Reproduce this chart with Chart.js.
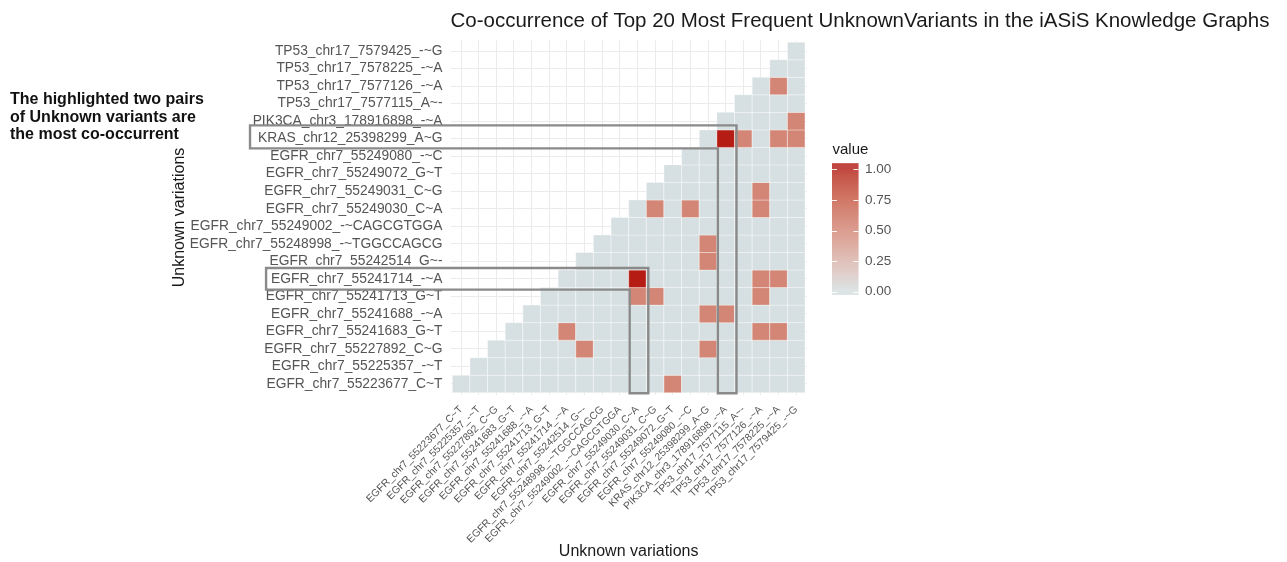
<!DOCTYPE html>
<html>
<head>
<meta charset="utf-8">
<script src="https://cdn.jsdelivr.net/npm/chart.js@4.4.1/dist/chart.umd.min.js"></script>
<style>
  html, body { margin: 0; padding: 0; background: #ffffff; }
  #wrap { position: relative; width: 1287px; height: 562px; }
</style>
</head>
<body>
<div id="wrap"><canvas id="c" width="1287" height="562"></canvas></div>
<script>
// Variants, bottom-to-top on the y axis and left-to-right on the x axis
const variants = [
  'EGFR_chr7_55223677_C~T',
  'EGFR_chr7_55225357_-~T',
  'EGFR_chr7_55227892_C~G',
  'EGFR_chr7_55241683_G~T',
  'EGFR_chr7_55241688_-~A',
  'EGFR_chr7_55241713_G~T',
  'EGFR_chr7_55241714_-~A',
  'EGFR_chr7_55242514_G~-',
  'EGFR_chr7_55248998_-~TGGCCAGCG',
  'EGFR_chr7_55249002_-~CAGCGTGGA',
  'EGFR_chr7_55249030_C~A',
  'EGFR_chr7_55249031_C~G',
  'EGFR_chr7_55249072_G~T',
  'EGFR_chr7_55249080_-~C',
  'KRAS_chr12_25398299_A~G',
  'PIK3CA_chr3_178916898_-~A',
  'TP53_chr17_7577115_A~-',
  'TP53_chr17_7577126_-~A',
  'TP53_chr17_7578225_-~A',
  'TP53_chr17_7579425_-~G'
];

// Normalised co-occurrence; row r = y variant, column c = x variant (null = not shown)
const _ = null;
const coOccurrence = [
  [0,0,0,0,0,0,0,0,0,0,0,0,0.5,0,0,0,0,0,0,0],
  [_,0,0,0,0,0,0,0,0,0,0,0,0,0,0,0,0,0,0,0],
  [_,_,0,0,0,0,0,0.5,0,0,0,0,0,0,0.5,0,0,0,0,0],
  [_,_,_,0,0,0,0.5,0,0,0,0,0,0,0,0,0,0,0.5,0.5,0],
  [_,_,_,_,0,0,0,0,0,0,0,0,0,0,0.5,0.5,0,0,0,0],
  [_,_,_,_,_,0,0,0,0,0,0.5,0.5,0,0,0,0,0,0.5,0,0],
  [_,_,_,_,_,_,0,0,0,0,1,0,0,0,0,0,0,0.5,0.5,0],
  [_,_,_,_,_,_,_,0,0,0,0,0,0,0,0.5,0,0,0,0,0],
  [_,_,_,_,_,_,_,_,0,0,0,0,0,0,0.5,0,0,0,0,0],
  [_,_,_,_,_,_,_,_,_,0,0,0,0,0,0,0,0,0,0,0],
  [_,_,_,_,_,_,_,_,_,_,0,0.5,0,0.5,0,0,0,0.5,0,0],
  [_,_,_,_,_,_,_,_,_,_,_,0,0,0,0,0,0,0.5,0,0],
  [_,_,_,_,_,_,_,_,_,_,_,_,0,0,0,0,0,0,0,0],
  [_,_,_,_,_,_,_,_,_,_,_,_,_,0,0,0,0,0,0,0],
  [_,_,_,_,_,_,_,_,_,_,_,_,_,_,0,1,0.5,0,0.5,0.5],
  [_,_,_,_,_,_,_,_,_,_,_,_,_,_,_,0,0,0,0,0.5],
  [_,_,_,_,_,_,_,_,_,_,_,_,_,_,_,_,0,0,0,0],
  [_,_,_,_,_,_,_,_,_,_,_,_,_,_,_,_,_,0,0.5,0],
  [_,_,_,_,_,_,_,_,_,_,_,_,_,_,_,_,_,_,0,0],
  [_,_,_,_,_,_,_,_,_,_,_,_,_,_,_,_,_,_,_,0]
];

const legendTicks = [0, 0.25, 0.5, 0.75, 1];

// The two most co-occurrent pairs, as [column, row]
const highlightPairs = [[15, 14], [10, 6]];

const annotationLines = [
  'The highlighted two pairs',
  'of Unknown variants are',
  'the most co-occurrent'
];

// ---- colour scale: low -> high, interpolated in CIE Lab ----
const LOW_RGB = [214, 223, 225];
const HIGH_RGB = [180, 28, 20];
const WP = [0.95047, 1, 1.08883];
function toLin(c) { c /= 255; return c <= 0.04045 ? c / 12.92 : Math.pow((c + 0.055) / 1.055, 2.4); }
function fromLin(c) {
  const v = c <= 0.0031308 ? 12.92 * c : 1.055 * Math.pow(c, 1 / 2.4) - 0.055;
  return Math.round(Math.max(0, Math.min(1, v)) * 255);
}
function rgbToLab(rgb) {
  const R = toLin(rgb[0]), G = toLin(rgb[1]), B = toLin(rgb[2]);
  const X = (0.4124 * R + 0.3576 * G + 0.1805 * B) / WP[0];
  const Y = (0.2126 * R + 0.7152 * G + 0.0722 * B);
  const Z = (0.0193 * R + 0.1192 * G + 0.9505 * B) / WP[2];
  const f = t => t > 0.008856 ? Math.cbrt(t) : 7.787 * t + 16 / 116;
  const fx = f(X), fy = f(Y), fz = f(Z);
  return [116 * fy - 16, 500 * (fx - fy), 200 * (fy - fz)];
}
function labToRgb(lab) {
  const fy = (lab[0] + 16) / 116, fx = fy + lab[1] / 500, fz = fy - lab[2] / 200;
  const inv = t => (t * t * t > 0.008856 ? t * t * t : (t - 16 / 116) / 7.787);
  const X = inv(fx) * WP[0], Y = inv(fy), Z = inv(fz) * WP[2];
  return [
    fromLin(3.2406 * X - 1.5372 * Y - 0.4986 * Z),
    fromLin(-0.9689 * X + 1.8758 * Y + 0.0415 * Z),
    fromLin(0.0557 * X - 0.2040 * Y + 1.0570 * Z)
  ];
}
const LOW_LAB = rgbToLab(LOW_RGB), HIGH_LAB = rgbToLab(HIGH_RGB);
function fillFor(v) {
  const t = Math.max(0, Math.min(1, v));
  const lab = LOW_LAB.map((l, i) => l + (HIGH_LAB[i] - l) * t);
  const c = labToRgb(lab);
  return `rgb(${c[0]},${c[1]},${c[2]})`;
}

// ---- tiles as square points ----
const cells = [];
coOccurrence.forEach((row, r) => row.forEach((v, c) => {
  if (v !== null) cells.push({ x: c, y: r, v: v });
}));

const FONT = "'Liberation Sans', Arial, Helvetica, sans-serif";
const TICK_COLOR = '#555555';
const Y_TICK_FONT = { family: FONT, size: 13.8 };
const Y_TICK_PAD = 8;

function cellSide(chart) {
  const xs = chart.scales.x, ys = chart.scales.y;
  if (!xs || !ys) return 10;
  const w = Math.abs(xs.getPixelForValue(1) - xs.getPixelForValue(0));
  const h = Math.abs(ys.getPixelForValue(1) - ys.getPixelForValue(0));
  return Math.min(w, h);
}

// ---- extra drawing: title, axis titles, note, colour bar, highlight boxes ----
const decorPlugin = {
  id: 'decor',
  afterDatasetsDraw(chart) {
    const { ctx, chartArea: ca, scales: { x, y } } = chart;
    ctx.save();
    ctx.strokeStyle = '#8a8a8a';
    ctx.lineWidth = 2.4;
    ctx.font = `${Y_TICK_FONT.size}px ${FONT}`;
    const boxPads = [{ top: 4.5, bottom: 1, left: 8 }, { top: 2, bottom: 2, left: 5 }];
    highlightPairs.forEach(([c, r], i) => {
      const pad = boxPads[i];
      const label = variants[r];
      const tw = ctx.measureText(label).width;
      const left = ca.left - Y_TICK_PAD - tw - pad.left;
      const colL = x.getPixelForValue(c - 0.5) + 1;
      const colR = x.getPixelForValue(c + 0.5) + 2;
      const rowT = y.getPixelForValue(r + 0.5) - pad.top;
      const rowB = y.getPixelForValue(r - 0.5) + pad.bottom;
      const bottom = y.getPixelForValue(-0.5) + 0.5;
      ctx.beginPath();
      ctx.moveTo(left, rowT);
      ctx.lineTo(colR, rowT);
      ctx.lineTo(colR, bottom);
      ctx.lineTo(colL, bottom);
      ctx.lineTo(colL, rowB);
      ctx.lineTo(left, rowB);
      ctx.closePath();
      ctx.stroke();
    });
    ctx.restore();
  },
  afterDraw(chart) {
    const { ctx, chartArea: ca } = chart;
    ctx.save();
    // title
    ctx.fillStyle = '#1a1a1a';
    ctx.font = `20.5px ${FONT}`;
    ctx.textAlign = 'left';
    ctx.textBaseline = 'alphabetic';
    ctx.fillText('Co-occurrence of Top 20 Most Frequent UnknownVariants in the iASiS Knowledge Graphs', ca.left, 27);

    // axis titles
    ctx.font = `16px ${FONT}`;
    ctx.textAlign = 'center';
    ctx.textBaseline = 'middle';
    ctx.fillText('Unknown variations', (ca.left + ca.right) / 2, 552);
    ctx.save();
    ctx.translate(180, (ca.top + ca.bottom) / 2);
    ctx.rotate(-Math.PI / 2);
    ctx.fillText('Unknown variations', 0, 0);
    ctx.restore();

    // note
    ctx.fillStyle = '#111111';
    ctx.font = `bold 16px ${FONT}`;
    ctx.textAlign = 'left';
    annotationLines.forEach((t, i) => ctx.fillText(t, 10, 100 + i * 17.5));

    // colour bar legend
    const bx = 832, bw = 26.5, bTop = 163.3, bBot = 295;
    const v1y = 169.3, v0y = 291.7;
    const valToY = v => v0y - v * (v0y - v1y);
    for (let py = bTop; py < bBot; py += 1) {
      const v = (v0y - (py + 0.5)) / (v0y - v1y);
      ctx.fillStyle = fillFor(v);
      ctx.fillRect(bx, py, bw, Math.min(1.05, bBot - py));
    }
    ctx.strokeStyle = 'rgba(255,255,255,0.9)';
    ctx.lineWidth = 1;
    legendTicks.forEach(v => {
      const ty = Math.round(valToY(v)) + 0.5;
      ctx.beginPath();
      ctx.moveTo(bx, ty); ctx.lineTo(bx + 5, ty);
      ctx.moveTo(bx + bw - 5, ty); ctx.lineTo(bx + bw, ty);
      ctx.stroke();
    });
    ctx.fillStyle = TICK_COLOR;
    ctx.font = `13.5px ${FONT}`;
    ctx.textBaseline = 'middle';
    legendTicks.forEach(v => ctx.fillText(v.toFixed(2), 865, valToY(v)));
    ctx.fillStyle = '#1a1a1a';
    ctx.font = `15px ${FONT}`;
    ctx.fillText('value', 832.5, 149.5);
    ctx.restore();
  }
};

const chart = new Chart(document.getElementById('c').getContext('2d'), {
  type: 'scatter',
  data: {
    datasets: [{
      data: cells,
      pointStyle: 'rect',
      radius: c => cellSide(c.chart) / Math.SQRT2,
      backgroundColor: c => fillFor(c.raw ? c.raw.v : 0),
      borderColor: 'rgba(255,255,255,0.6)',
      borderWidth: 0.6
    }]
  },
  options: {
    responsive: false,
    animation: false,
    events: [],
    layout: { padding: { left: 0, right: 480.2, top: 40.5, bottom: 0 } },
    scales: {
      x: {
        type: 'linear',
        bounds: 'data',
        min: -0.6,
        max: 19.6,
        afterBuildTicks: s => { s.ticks = variants.map((name, i) => ({ value: i })); },
        afterFit: s => { s.height = 167.5; },
        grid: { color: '#ebebeb', lineWidth: 1, drawTicks: false },
        border: { display: false },
        ticks: {
          autoSkip: false, minRotation: 45, maxRotation: 45, padding: 9,
          color: TICK_COLOR, font: { family: FONT, size: 10.3 },
          callback: v => variants[v]
        }
      },
      y: {
        type: 'linear',
        bounds: 'data',
        min: -0.6,
        max: 19.6,
        afterBuildTicks: s => { s.ticks = variants.map((name, i) => ({ value: i })); },
        afterFit: s => { s.width = 450.5; },
        grid: { color: '#ebebeb', lineWidth: 1, drawTicks: false },
        border: { display: false },
        ticks: {
          autoSkip: false, padding: Y_TICK_PAD,
          color: TICK_COLOR, font: Y_TICK_FONT,
          callback: v => variants[v]
        }
      }
    },
    plugins: {
      legend: { display: false },
      title: { display: false },
      tooltip: { enabled: false }
    }
  },
  plugins: [decorPlugin]
});
</script>
</body>
</html>
